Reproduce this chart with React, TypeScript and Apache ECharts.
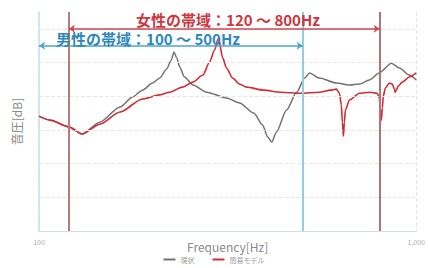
import React, { useEffect, useRef } from "react";
import * as echarts from "echarts";

// 現状 (gray)
const grayFreq = [100, 107, 120, 130, 145, 164, 177, 188, 200, 209, 218, 224, 228, 232, 236, 243, 256, 278, 314, 340, 371, 391, 404, 414, 426, 453, 482, 506, 521, 554, 614, 665, 707, 751, 798, 859, 902, 958, 1000];
const grayDb = [34.1, 32.9, 30.9, 28.8, 32.3, 36.8, 39.8, 41.8, 43.9, 45.4, 48.1, 50.7, 53.1, 51.3, 48.7, 45.7, 43.3, 41.2, 39.5, 38.0, 35.0, 31.5, 27.9, 26.4, 29.4, 35.9, 41.2, 45.4, 46.9, 45.4, 43.9, 43.3, 43.6, 44.8, 46.9, 49.8, 48.4, 46.3, 44.8];

// 簡易モデル (red)
const redFreq = [100, 107, 120, 130, 145, 164, 188, 209, 222, 240, 256, 272, 283, 292, 299, 307, 314, 326, 340, 355, 394, 437, 493, 554, 592, 614, 626, 633, 637, 641, 645, 649, 665, 707, 751, 788, 798, 803, 808, 813, 818, 828, 848, 864, 875, 879, 885, 896, 918, 958, 1000];
const redDb = [34.1, 32.9, 30.9, 28.8, 31.7, 35.3, 39.2, 40.4, 41.2, 42.7, 44.2, 46.3, 50.1, 53.7, 57.3, 51.3, 48.4, 45.4, 43.6, 42.7, 41.8, 41.2, 40.9, 41.2, 41.8, 42.1, 40.9, 37.4, 32.3, 28.2, 32.3, 35.9, 38.9, 40.9, 41.2, 40.9, 39.5, 36.5, 32.9, 36.5, 40.1, 42.4, 43.9, 43.6, 42.1, 41.2, 41.8, 43.0, 44.2, 45.7, 46.9];

const gridLevels = [10, 20, 30, 40, 50, 60];
const femaleBand = [120, 800];
const maleBand = [100, 500];
const femaleArrowLevel = 60;
const maleArrowLevel = 55;
const xTickLabels: Record<number, string> = { 100: "100", 1000: "1,000" };

const FONT = '"Noto Sans CJK JP", "Noto Sans", sans-serif';

export default function App() {
  const ref = useRef<HTMLDivElement>(null);
  useEffect(() => {
    if (!ref.current) return;
    const chart = echarts.init(ref.current, undefined, { renderer: "svg" });
    const grayData = grayFreq.map((f, i) => [f, grayDb[i]]);
    const redData = redFreq.map((f, i) => [f, redDb[i]]);
    chart.setOption({
      animation: false,
      textStyle: { fontFamily: FONT },
      grid: { left: 39, right: 11, top: 12, bottom: 37 },
      legend: {
        data: ["現状", "簡易モデル"],
        bottom: 0,
        left: "center",
        itemWidth: 12,
        itemHeight: 2,
        itemGap: 18,
        icon: "rect",
        textStyle: { fontSize: 7, color: "#999", fontFamily: FONT },
      },
      xAxis: {
        type: "log",
        logBase: 10,
        min: 100,
        max: 1000,
        name: "Frequency[Hz]",
        nameLocation: "middle",
        nameGap: 9,
        nameMoveOverlap: false,
        nameTextStyle: { fontSize: 12, color: "#8a8a8a", fontFamily: FONT },
        axisLine: { lineStyle: { color: "#d3dde8", width: 1 } },
        axisTick: { show: false },
        axisLabel: {
          fontSize: 7,
          color: "#aaa",
          margin: 7,
          formatter: (v: number) => xTickLabels[Math.round(v)] ?? "",
        },
        splitLine: { show: true, lineStyle: { color: "#e6e6e6", type: "dashed" } },
      },
      yAxis: {
        type: "value",
        min: 0,
        max: 65,
        interval: 10,
        name: "音圧[dB]",
        nameLocation: "middle",
        nameGap: 17,
        nameMoveOverlap: false,
        nameRotate: 90,
        nameTextStyle: { fontSize: 12, color: "#8a8a8a", fontFamily: FONT },
        axisLine: { show: true, lineStyle: { color: "#c9dcec", width: 1.5 } },
        axisTick: { show: false },
        axisLabel: { show: false },
        splitLine: { show: false },
      },
      series: [
        {
          name: "grid",
          type: "line",
          data: [],
          silent: true,
          z: 1,
          markLine: {
            silent: true,
            symbol: ["none", "none"],
            label: { show: false },
            lineStyle: { color: "#f2e4e4", type: "dashed", width: 1 },
            data: gridLevels.map((y) => ({ yAxis: y })),
          },
        },
        {
          name: "現状",
          type: "line",
          data: grayData,
          showSymbol: false,
          smooth: 0.25,
          smoothMonotone: "x",
          lineStyle: { color: "#727272", width: 1.5 },
          itemStyle: { color: "#727272" },
          z: 3,
        },
        {
          name: "簡易モデル",
          type: "line",
          data: redData,
          showSymbol: false,
          smooth: 0.25,
          smoothMonotone: "x",
          lineStyle: { color: "#d42a33", width: 1.6 },
          itemStyle: { color: "#d42a33" },
          z: 4,
          markLine: {
            silent: true,
            label: { show: false },
            symbol: ["none", "none"],
            data: [
              { xAxis: femaleBand[0], lineStyle: { color: "#b57c7c", width: 2, type: "solid" } },
              { xAxis: femaleBand[1], lineStyle: { color: "#b07474", width: 2, type: "solid" } },
              { xAxis: maleBand[1], lineStyle: { color: "#8fcfe0", width: 2, type: "solid" } },
              [
                { coord: [femaleBand[0], femaleArrowLevel], symbol: "arrow", symbolSize: 6, lineStyle: { color: "#d2454b", width: 1.5, type: "solid" } },
                { coord: [femaleBand[1], femaleArrowLevel], symbol: "arrow", symbolSize: 6 },
              ],
              [
                { coord: [maleBand[0], maleArrowLevel], symbol: "arrow", symbolSize: 6, lineStyle: { color: "#4aa6cf", width: 1.5, type: "solid" } },
                { coord: [maleBand[1], maleArrowLevel], symbol: "arrow", symbolSize: 6 },
              ],
            ],
          },
        },
      ],
      graphic: [
        {
          type: "text",
          x: 228,
          y: 19,
          z: 10,
          style: {
            text: "女性の帯域：120 ～ 800Hz",
            fill: "#d0363e",
            font: `bold 15px ${FONT}`,
            align: "center",
            verticalAlign: "middle",
          },
        },
        {
          type: "text",
          x: 148,
          y: 38,
          z: 10,
          style: {
            text: "男性の帯域：100 ～ 500Hz",
            fill: "#2f88bd",
            font: `bold 15px ${FONT}`,
            align: "center",
            verticalAlign: "middle",
          },
        },
      ],
    });
    return () => chart.dispose();
  }, []);
  return <div ref={ref} style={{ width: 428, height: 268, position: "absolute", left: 0, top: 0 }} />;
}
